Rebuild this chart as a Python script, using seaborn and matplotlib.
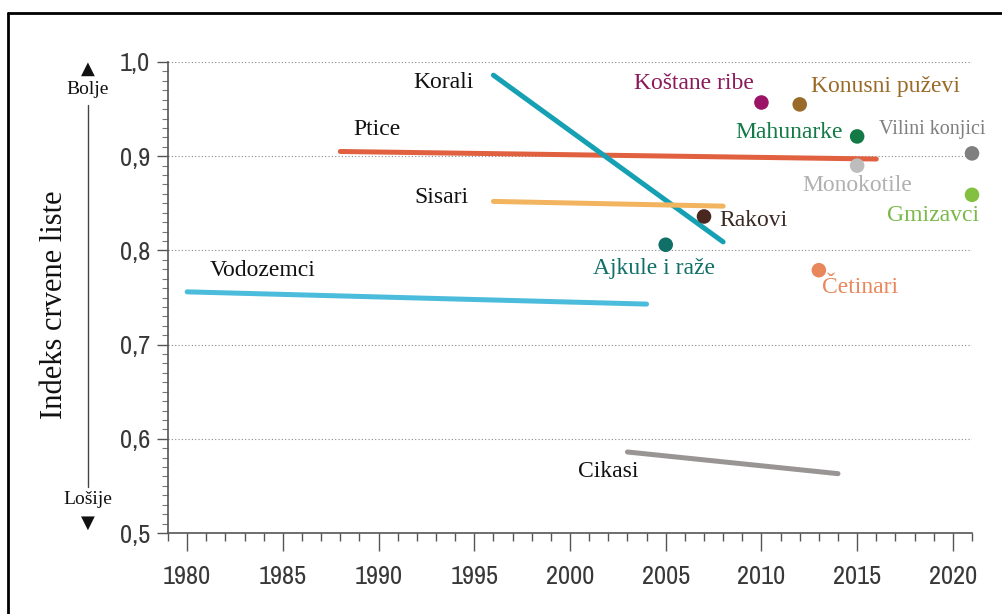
import matplotlib
matplotlib.use("Agg")
import matplotlib.pyplot as plt
import matplotlib.ticker as mticker
from matplotlib.lines import Line2D
from matplotlib import font_manager
import pandas as pd
import seaborn as sns

# Trend lines (start / end of each series)
line_names = ["Vodozemci", "Ptice", "Korali", "Sisari", "Cikasi"]
line_start_years = [1980, 1988, 1996, 1996, 2003]
line_end_years = [2004, 2016, 2008, 2008, 2014]
line_start_vals = [0.756, 0.905, 0.986, 0.852, 0.586]
line_end_vals = [0.743, 0.897, 0.809, 0.847, 0.563]
line_colors = ["#4bbcdc", "#e06040", "#16a0b4", "#f2b45e", "#999594"]

# Single assessments
point_names = ["Koštane ribe", "Konusni puževi", "Mahunarke", "Vilini konjici",
               "Monokotile", "Gmizavci", "Rakovi", "Ajkule i raže", "Četinari"]
point_years = [2010, 2012, 2015, 2021, 2015, 2021, 2007, 2005, 2013]
point_vals = [0.957, 0.955, 0.921, 0.903, 0.890, 0.859, 0.836, 0.806, 0.779]
point_colors = ["#9c1466", "#9a6a28", "#137a45", "#7f7f7f", "#bdbdbd",
                "#84c040", "#4a2820", "#107068", "#e8875a"]

# label placement (data coords)
line_label_xy = [(1983.96, 0.779), (1989.9, 0.928), (1994.97, 0.978),
                 (1993.3, 0.856), (2002.0, 0.565)]
point_label_xy = [(2006.45, 0.977), (2016.5, 0.974), (2011.45, 0.925),
                  (2018.9, 0.928), (2015.0, 0.869), (2018.95, 0.837),
                  (2009.6, 0.832), (2004.4, 0.781), (2015.15, 0.761)]

lines_df = pd.DataFrame({
    "name": line_names * 2,
    "year": line_start_years + line_end_years,
    "value": line_start_vals + line_end_vals,
})
points_df = pd.DataFrame({"name": point_names, "year": point_years, "value": point_vals})

sns.set_style("white")
serif = ["Liberation Serif", "DejaVu Serif"]

# pick a condensed sans for the tick labels if one is installed
tick_font = None
for f in font_manager.fontManager.ttflist:
    if ("Condensed" in f.name or "Narrow" in f.name) and f.weight in (400, "normal", "regular") \
            and f.style == "normal":
        tick_font = font_manager.FontProperties(fname=f.fname)
        break
if tick_font is None:
    for f in font_manager.fontManager.ttflist:
        if f.name == "Roboto" and str(f.stretch) in ("condensed", "semi-condensed") and f.style == "normal":
            tick_font = font_manager.FontProperties(fname=f.fname)
            break
if tick_font is None:
    tick_font = font_manager.FontProperties(family="Roboto")
    tick_size = 16
else:
    tick_size = 19
tick_font.set_size(tick_size)

fig = plt.figure(figsize=(10.03, 6.14), dpi=100)
ax = fig.add_axes([168 / 1003, 1 - 533 / 614, (972 - 168) / 1003, (533 - 62) / 614])

sns.lineplot(data=lines_df, x="year", y="value", hue="name", hue_order=line_names,
             palette=line_colors, lw=3.6, legend=False, ax=ax,
             solid_capstyle="round", zorder=3)
sns.scatterplot(data=points_df, x="year", y="value", hue="name", hue_order=point_names,
                palette=point_colors, s=110, edgecolor="none", legend=False, ax=ax,
                zorder=4, clip_on=False)

for name, (x, y) in zip(line_names, line_label_xy):
    ha = "right" if name == "Korali" else "center"
    ax.text(x, y, name, ha=ha, va="center", fontsize=17, family=serif, color="#111111")

for name, c, (x, y) in zip(point_names, point_colors, point_label_xy):
    fs = 14.5 if name == "Vilini konjici" else 17
    tc = {"Monokotile": "#b0b0b0", "Koštane ribe": "#8b1a5a", "Gmizavci": "#7ab848",
          "Rakovi": "#3a2a22"}.get(name, c)
    ax.text(x, y, name, ha="center", va="center", fontsize=fs, family=serif, color=tc)

ax.set_xlim(1979, 2021)
ax.set_ylim(0.5, 1.0)
ax.xaxis.set_major_locator(mticker.MultipleLocator(5))
ax.xaxis.set_minor_locator(mticker.MultipleLocator(1))
ax.yaxis.set_major_locator(mticker.MultipleLocator(0.1))
ax.yaxis.set_minor_locator(mticker.MultipleLocator(0.01))
ax.yaxis.set_major_formatter(mticker.FuncFormatter(lambda v, p: f"{v:.1f}".replace(".", ",")))
ax.set_xticks(range(1980, 2021, 5))

ax.grid(axis="y", which="major", linestyle=(0, (1, 2)), color="#888888", lw=0.8)
for s in ["top", "right"]:
    ax.spines[s].set_visible(False)
for s in ["left", "bottom"]:
    ax.spines[s].set_color("#555555")
    ax.spines[s].set_linewidth(1.2)

ax.tick_params(axis="x", which="major", length=13, width=1, color="#555555",
               pad=10, labelcolor="#383838", direction="out")
ax.tick_params(axis="x", which="minor", length=6, width=1, color="#555555", direction="out")
ax.tick_params(axis="y", which="major", length=8, width=1, color="#555555",
               pad=5, labelcolor="#383838", direction="out")
ax.tick_params(axis="y", which="minor", length=4, width=0.8, color="#777777", direction="out")
ax.tick_params(bottom=True, left=True, which="both")
for lab in ax.get_xticklabels() + ax.get_yticklabels():
    lab.set_fontproperties(tick_font)

ax.set_xlabel("")
ax.set_ylabel("")

# y-axis title and better/worse indicator
fig.text(55 / 1003, 1 - 305 / 614, "Indeks crvene liste", rotation=90, ha="center",
         va="center", fontsize=22, family=serif, color="#111111")
fig.text(88 / 1003, 1 - 69 / 614, "▲", ha="center", va="center", fontsize=13, color="#111111")
fig.text(88 / 1003, 1 - 89 / 614, "Bolje", ha="center", va="center", fontsize=14,
         family=serif, color="#111111")
fig.text(88 / 1003, 1 - 500 / 614, "Lošije", ha="center", va="center", fontsize=14,
         family=serif, color="#111111")
fig.text(88 / 1003, 1 - 523 / 614, "▼", ha="center", va="center", fontsize=13, color="#111111")
fig.add_artist(Line2D([88 / 1003, 88 / 1003], [1 - 105 / 614, 1 - 487 / 614],
                      color="#444444", lw=1))

# outer frame
fig.add_artist(Line2D([8 / 1003, 1.0], [1 - 13 / 614, 1 - 13 / 614], color="black", lw=2))
fig.add_artist(Line2D([8 / 1003, 8 / 1003], [1 - 13 / 614, 0.0], color="black", lw=2))

fig.savefig("out.png", dpi=100)
